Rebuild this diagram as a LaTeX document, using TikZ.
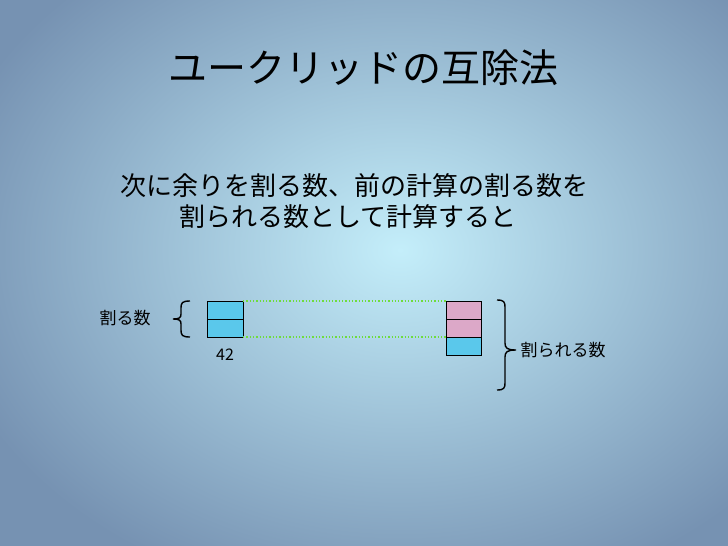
\documentclass[tikz,border=0pt]{standalone}
\usepackage{fontspec}
\setmainfont{Noto Sans CJK JP}
\begin{document}
\begin{tikzpicture}[x=1pt,y=-1pt,
  bx/.style={draw=black,line width=0.8pt},
  cy/.style={bx,fill={rgb,255:red,90;green,200;blue,235}},
  pk/.style={bx,fill={rgb,255:red,220;green,168;blue,200}},
  dl/.style={draw={rgb,255:red,110;green,220;blue,60},dotted,line width=1.3pt},
  br/.style={draw=black,line width=1.4pt}]
\definecolor{edge}{RGB}{118,146,178}
\definecolor{mid}{RGB}{196,238,250}
\useasboundingbox (0,0) rectangle (728,546);
\begin{scope}
\clip (0,0) rectangle (728,546);
\fill[edge] (0,0) rectangle (728,546);
\shade[inner color=mid,outer color=edge] (400,250) ellipse (470 and 360);
\end{scope}
\node[font=\fontsize{39}{42}\selectfont] (title) at (363,68) {ユークリッドの互除法};
\node[font=\fontsize{26}{28}\selectfont] (l1) at (354,186) {次に余りを割る数、前の計算の割る数を};
\node[font=\fontsize{26}{28}\selectfont] (l2) at (348,217) {割られる数として計算すると};
\draw[cy] (207,301) rectangle (243,319);
\draw[cy] (207,319) rectangle (243,337);
\draw[pk] (446,301) rectangle (481,319);
\draw[pk] (446,319) rectangle (481,337);
\draw[cy] (446,337) rectangle (481,355);
\coordinate (p1) at (243,301); \coordinate (q1) at (446,301);
\coordinate (p2) at (243,337); \coordinate (q2) at (446,337);
\draw[dl] (p1) -- (q1);
\draw[dl] (p2) -- (q2);
\node[font=\fontsize{16}{18}\selectfont] (n42) at (225,355) {42};
\node[font=\fontsize{17}{19}\selectfont] (lw) at (125,318) {割る数};
\node[font=\fontsize{17}{19}\selectfont,anchor=west] (rw) at (517,350) {割られる数};
\draw[br] (190,301) .. controls (182,301) and (181,303) .. (181,308) -- (181,314) .. controls (181,318) and (179,319) .. (173,319) .. controls (179,319) and (181,320) .. (181,324) -- (181,330) .. controls (181,335) and (182,337) .. (190,337);
\draw[br] (497,300) .. controls (504,300) and (505,302) .. (505,307) -- (505,343) .. controls (505,348) and (507,350) .. (516,350) .. controls (507,350) and (505,352) .. (505,357) -- (505,383) .. controls (505,388) and (504,390) .. (497,390);
\end{tikzpicture}
\end{document}
